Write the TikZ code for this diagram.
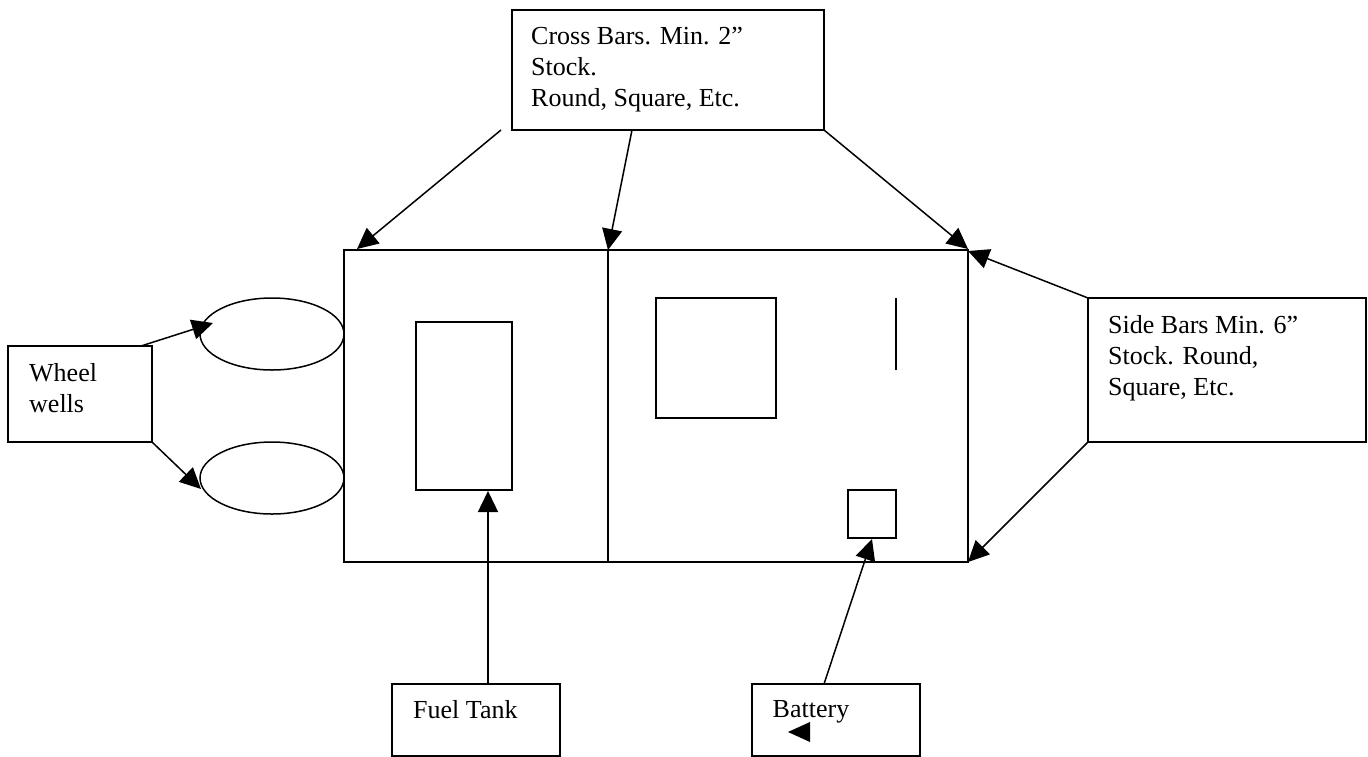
\documentclass[tikz,border=0pt]{standalone}
\usepackage{fontspec}
\setmainfont{Liberation Serif}
\usetikzlibrary{arrows.meta,calc,shapes.geometric}
\tikzset{
 line/.style={draw=black,line width=1.5pt},
 boxn/.style={line,rectangle,anchor=north west,inner sep=0pt,outer sep=0pt},
 wheel/.style={line,ellipse,inner sep=0pt,outer sep=0pt,minimum width=144pt,minimum height=72pt},
 arr/.style={line,-{Triangle[length=21pt,width=20pt]}},
 lab/.style={anchor=north west,inner sep=0pt,font=\fontsize{26}{31}\selectfont,align=left},
}
\newcommand{\bx}[6]{\node[boxn,minimum width=#4 pt,minimum height=#5 pt] (#1) at (#2,#3) {#6};}
\begin{document}
\begin{tikzpicture}[x=1pt,y=-1pt]
\useasboundingbox (0,0) rectangle (1368,756);
\fill[white] (0,0) rectangle (1368,756);
\bx{cross}{512}{10}{312}{120}{}
\node[lab] (crosst) at (531,27.2) {Cross Bars. Min. 2”\\Stock.\\Round, Square, Etc.};
\bx{frame}{344}{250}{624}{312}{}
\draw[line] (frame.north west) ++(264,0) coordinate (mt) -- ++(0,312) coordinate (mb);
\bx{tank}{416}{322}{96}{168}{}
\bx{sq}{656}{298}{120}{120}{}
\coordinate (ba) at (896,298); \coordinate (bb) at (896,370);
\draw[line] (ba) -- (bb);
\bx{bat}{848}{490}{48}{48}{}
\node[wheel] (w1) at (272,334) {};
\node[wheel] (w2) at (272,478) {};
\bx{wheelbox}{8}{346}{144}{96}{}
\node[lab] (wheelt) at (29,363.2) {Wheel\\wells};
\bx{side}{1088}{298}{278}{144}{}
\node[lab] (sidet) at (1108,315) {Side Bars Min. 6”\\Stock. Round,\\Square, Etc.};
\bx{fuel}{392}{684}{168}{72}{}
\node[lab] (fuelt) at (413,700.2) {Fuel Tank};
\bx{battery}{752}{684}{168}{72}{}
\node[lab] (batteryt) at (772.5,700.2) {Battery};
\node[fill=black,inner sep=0pt] (tri) at (799,732) {};
\fill ($(tri)+(-11,0)$) -- ($(tri)+(11,-10)$) -- ($(tri)+(11,10)$) -- cycle;
\draw[arr] ($(cross.south west)+(-11,0)$) -- ($(frame.north west)+(13,-1)$);
\draw[arr] ($(cross.south west)+(120,0)$) -- (mt);
\draw[arr] (cross.south east) -- ($(frame.north east)+(0,-1)$);
\draw[arr] (side.north west) -- ($(frame.north east)+(0,1)$);
\draw[arr] (side.south west) -- (frame.south east);
\draw[arr] ($(wheelbox.north west)+(133,0)$) -- ($(w1.center)+(-59,-11)$);
\draw[arr] (wheelbox.south east) -- ($(w2.center)+(-71,11)$);
\draw[arr] ($(fuel.north west)+(96,0)$) -- ($(tank.south east)+(-24,1)$);
\draw[arr] ($(battery.north west)+(72,0)$) -- ($(bat.south east)+(-24,1)$);
\end{tikzpicture}
\end{document}
